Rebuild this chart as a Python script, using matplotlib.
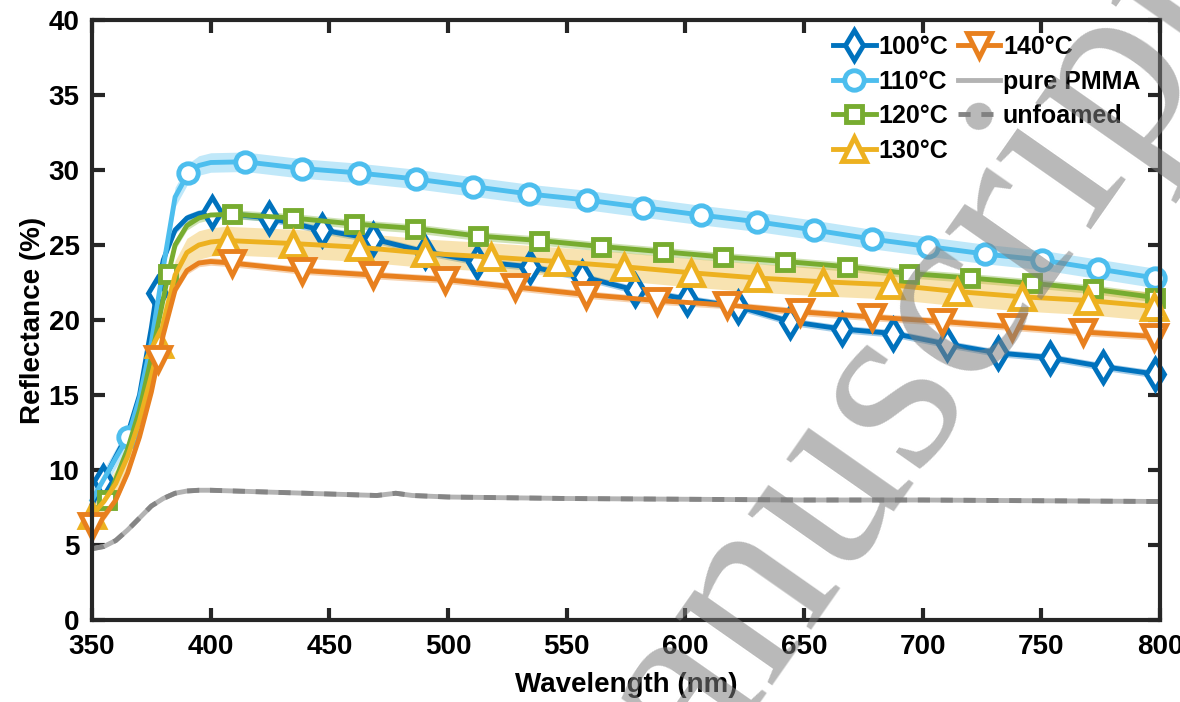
import numpy as np
import matplotlib
matplotlib.use("Agg")
import matplotlib.pyplot as plt

plt.rcParams['font.family'] = ['Liberation Sans', 'DejaVu Sans']
plt.rcParams['font.weight'] = 'bold'

# 100 C
w100 = [350, 354.8, 360, 365, 370, 375, 377.2, 380, 385, 390, 395, 400.5, 424.6, 446.8, 468.5, 490.3,
        512.4, 534.5, 556.3, 578.8, 600.6, 622.3, 644.1, 665.9, 687.7, 710.1, 731.9, 753.8,
        775.8, 797.8, 800]
r100 = [7.7, 9.3, 10.9, 12.4, 15.0, 19.5, 21.8, 24.0, 26.0, 26.8, 27.1, 27.2, 26.8, 26.0, 25.4, 24.55,
        23.9, 23.55, 22.9, 22.0, 21.4, 20.9, 19.9, 19.4, 19.1, 18.4, 17.8, 17.5,
        16.9, 16.4, 16.4]
m100 = [354.8, 377.2, 400.5, 424.6, 446.8, 468.5, 490.3, 512.4, 534.5, 556.3, 578.8, 600.6,
        622.3, 644.1, 665.9, 687.7, 710.1, 731.9, 753.8, 775.8, 797.8]

# 110 C
w110 = [350, 355, 360, 365.2, 370, 375, 380, 385, 390.6, 395, 400, 414.5, 438.6, 462.6, 486.5,
        510.4, 534.3, 558.4, 582.3, 606.4, 630.3, 654.4, 678.5, 702.4, 726.3, 750.2, 774.1,
        798, 800]
r110 = [8.0, 9.4, 10.8, 12.2, 14.8, 18.5, 23.5, 28.2, 29.8, 30.3, 30.5, 30.55, 30.1, 29.8, 29.4,
        28.9, 28.4, 28.0, 27.5, 27.0, 26.55, 26.0, 25.4, 24.9, 24.4, 24.0, 23.4,
        22.8, 22.8]
m110 = [365.2, 390.6, 414.5, 438.6, 462.6, 486.5, 510.4, 534.3, 558.4, 582.3, 606.4, 630.3,
        654.4, 678.5, 702.4, 726.3, 750.2, 774.1, 798]

# 120 C
w120 = [350, 356.4, 360, 365, 370, 375, 382.2, 385, 390, 395, 400, 408.9, 434.5, 460.4, 486.3,
        512.6, 538.5, 564.5, 590.4, 616, 642.2, 668.3, 694.4, 720, 746, 771.9, 797.8, 800]
r120 = [7.2, 8.0, 9.4, 11.4, 14.0, 17.5, 23.1, 25.0, 26.3, 26.8, 27.0, 27.05, 26.8, 26.4, 26.1,
        25.6, 25.3, 24.9, 24.55, 24.2, 23.9, 23.55, 23.1, 22.8, 22.45, 22.05, 21.5, 21.5]
m120 = [356.4, 382.2, 408.9, 434.5, 460.4, 486.3, 512.6, 538.5, 564.5, 590.4, 616, 642.2,
        668.3, 694.4, 720, 746, 771.9, 797.8]

# 130 C
w130 = [350, 355, 360, 365, 370, 375, 378.4, 380, 385, 390, 395, 400, 406.7, 434.5, 462.6,
        490.3, 518, 546.2, 574.3, 602.4, 630.3, 658.1, 686.3, 714.3, 741.7, 769.7, 797.7, 800]
r130 = [7.0, 7.9, 9.1, 10.9, 13.3, 16.3, 18.4, 19.8, 23.0, 24.5, 25.0, 25.2, 25.3, 25.1, 24.85,
        24.45, 24.2, 23.9, 23.55, 23.15, 22.8, 22.55, 22.35, 21.9, 21.55, 21.3, 20.9, 20.9]
m130 = [350, 378.4, 406.7, 434.5, 462.6, 490.3, 518, 546.2, 574.3, 602.4, 630.3, 658.1,
        686.3, 714.3, 741.7, 769.7, 797.7]

# 140 C
w140 = [350, 355, 360, 365, 370, 375, 377.9, 380, 385, 390, 395, 400, 408.9, 438.6, 468.5,
        498.7, 528.2, 558, 587.9, 617.6, 648.3, 678.5, 708, 737.8, 767.7, 797.6, 800]
r140 = [6.3, 6.9, 8.0, 9.8, 12.2, 15.2, 17.4, 19.0, 22.0, 23.3, 23.8, 23.9, 23.8, 23.3, 23.0,
        22.7, 22.2, 21.7, 21.3, 21.0, 20.55, 20.2, 19.9, 19.55, 19.2, 18.9, 18.9]
m140 = [350, 377.9, 408.9, 438.6, 468.5, 498.7, 528.2, 558, 587.9, 617.6, 648.3, 678.5,
        708, 737.8, 767.7, 797.6]

# shaded band half widths
e100, e110, e120, e130, e140 = 0.25, 0.65, 0.3, 0.95, 0.25

# pure PMMA / unfoamed
wg = [350, 355, 360, 365, 370, 375, 380, 385, 390, 395, 400, 420, 440, 460, 470, 478, 485,
      500, 550, 600, 650, 700, 750, 800]
rpure = [4.75, 4.9, 5.3, 6.0, 6.8, 7.6, 8.1, 8.45, 8.6, 8.65, 8.65, 8.55, 8.45, 8.35, 8.3,
         8.45, 8.3, 8.2, 8.1, 8.05, 8.0, 8.0, 7.95, 7.9]
runf = [4.75, 4.9, 5.3, 6.0, 6.8, 7.6, 8.1, 8.45, 8.6, 8.65, 8.65, 8.55, 8.45, 8.35, 8.3,
        8.45, 8.3, 8.2, 8.1, 8.05, 8.0, 8.0, 7.95, 7.9]

series = [
    ("100°C", w100, r100, m100, e100, "#0072BD", "d"),
    ("110°C", w110, r110, m110, e110, "#4DBEEE", "o"),
    ("120°C", w120, r120, m120, e120, "#77AC30", "s"),
    ("130°C", w130, r130, m130, e130, "#EDB120", "^"),
    ("140°C", w140, r140, m140, e140, "#E8801E", "v"),
]
msize = {"d": 15.5, "o": 14, "s": 11.5, "^": 17, "v": 17}

fig = plt.figure(figsize=(11.8, 7.02), dpi=100)
ax = fig.add_axes([0.078, 0.1168, 0.905, 0.8547])

for lab, w, r, m, e, c, mk in series:
    w = np.array(w); r = np.array(r)
    ax.fill_between(w, r - e, r + e, color=c, alpha=0.35, lw=0)

handles = []
for lab, w, r, m, e, c, mk in series:
    idx = [w.index(v) for v in m]
    h, = ax.plot(w, r, color=c, lw=3.5, marker=mk, markevery=idx, ms=msize[mk],
                 mfc="white", mec=c, mew=3.5, label=lab, clip_on=False)
    handles.append(h)

h1, = ax.plot(wg, rpure, color="#B3B3B3", lw=3.5, label="pure PMMA")
h2, = ax.plot(wg, runf, color="#858585", lw=3.5, ls=(0, (2.5, 2.2)), label="unfoamed")
handles += [h1, h2]

ax.set_xlim(350, 800)
ax.set_ylim(0, 40)
ax.set_xticks(np.arange(350, 801, 50))
ax.set_yticks(np.arange(0, 41, 5))
ax.tick_params(direction="in", length=9, width=3, labelsize=20, top=True, right=True,
               colors="#262626")
ax.tick_params(axis="x", pad=10)
ax.tick_params(axis="y", pad=9)
for lbl in ax.get_xticklabels() + ax.get_yticklabels():
    lbl.set_fontweight("bold")
    lbl.set_color("black")
for s in ax.spines.values():
    s.set_linewidth(3)
    s.set_color("#262626")

ax.set_xlabel("Wavelength (nm)", fontsize=20, fontweight="bold", labelpad=9)
ax.set_ylabel("Reflectance (%)", fontsize=20, fontweight="bold", labelpad=2)

ax.legend(handles=handles, ncol=2, loc="upper left", frameon=False, fontsize=18,
          handlelength=1.7, handletextpad=0.1, columnspacing=0.4, labelspacing=0.42,
          borderpad=0, borderaxespad=0, bbox_to_anchor=(0.694, 0.975))

# watermark
fig.text(700 / 1180, 1 - 775 / 702, "anuscript", fontsize=185, family="Liberation Serif",
         color="#7f7f7f", alpha=0.55, rotation=55, rotation_mode="anchor",
         ha="left", va="baseline", fontweight="normal")

fig.savefig("out.png", dpi=100)
